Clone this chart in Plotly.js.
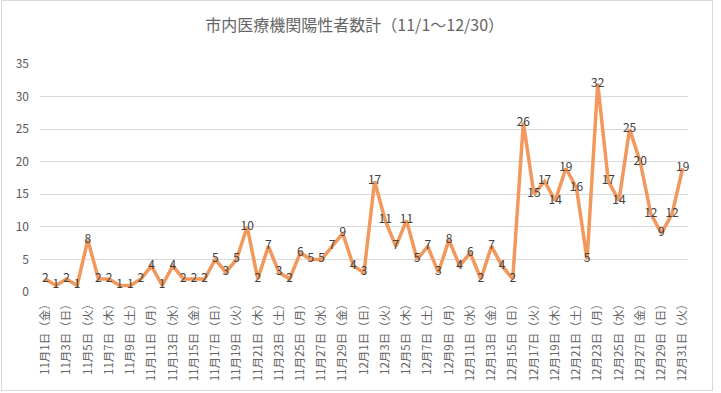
<!DOCTYPE html>
<html>
<head>
<meta charset="utf-8">
<script src="https://cdn.plot.ly/plotly-3.0.1.min.js"></script>
<style>
html,body{margin:0;padding:0;background:#fff;}
#wrap{position:relative;width:721px;height:393px;}
#chart{position:absolute;left:0;top:0;width:721px;height:393px;}
#frame{position:absolute;left:1px;top:0px;width:710px;height:389px;border:1px solid #d9d9d9;pointer-events:none;}
</style>
</head>
<body>
<div id="wrap"><div id="chart"></div><div id="frame"></div></div>
<script>
const titleText = "市内医療機関陽性者数計（11/1～12/30）";
const categories = [
"11月1日（金）","11月2日（土）","11月3日（日）","11月4日（月）","11月5日（火）","11月6日（水）","11月7日（木）",
"11月8日（金）","11月9日（土）","11月10日（日）","11月11日（月）","11月12日（火）","11月13日（水）","11月14日（木）",
"11月15日（金）","11月16日（土）","11月17日（日）","11月18日（月）","11月19日（火）","11月20日（水）","11月21日（木）",
"11月22日（金）","11月23日（土）","11月24日（日）","11月25日（月）","11月26日（火）","11月27日（水）","11月28日（木）",
"11月29日（金）","11月30日（土）",
"12月1日（日）","12月2日（月）","12月3日（火）","12月4日（水）","12月5日（木）","12月6日（金）","12月7日（土）",
"12月8日（日）","12月9日（月）","12月10日（火）","12月11日（水）","12月12日（木）","12月13日（金）","12月14日（土）",
"12月15日（日）","12月16日（月）","12月17日（火）","12月18日（水）","12月19日（木）","12月20日（金）","12月21日（土）",
"12月22日（日）","12月23日（月）","12月24日（火）","12月25日（水）","12月26日（木）","12月27日（金）","12月28日（土）",
"12月29日（日）","12月30日（月）","12月31日（火）"
];
const positives = [
2,1,2,1,8,2,2,1,1,2,4,1,4,2,2,2,5,3,5,10,2,7,3,2,6,5,5,7,9,4,
3,17,11,7,11,5,7,3,8,4,6,2,7,4,2,26,15,17,14,19,16,5,32,17,14,25,20,12,9,12,19
];
const yTicks = [0,5,10,15,20,25,30,35];

const tickCats = categories.filter((c,i)=>i%2===0);
const font = '"Noto Sans CJK JP", "Noto Sans", sans-serif';

const trace = {
  type:'scatter',
  mode:'lines+text',
  x: categories,
  y: positives,
  text: positives.map(String),
  textposition:'middle center',
  textfont:{family:font,size:12,color:'#404040'},
  line:{color:'#F2985C',width:3.5},
  hoverinfo:'x+y',
  cliponaxis:false
};

const layout = {
  width:721,height:393,
  margin:{l:40,r:33,t:64,b:101},
  paper_bgcolor:'#fff',plot_bgcolor:'#fff',
  showlegend:false,
  title:{text:titleText,x:0.492,xref:'container',xanchor:'center',y:0.935,yref:'container',yanchor:'middle',
         font:{family:font,size:16,color:'#666666'}},
  xaxis:{type:'category',range:[-0.5,categories.length-0.5],tickmode:'array',tickvals:tickCats,ticktext:tickCats,
         tickangle:-90,tickfont:{family:font,size:11.5,color:'#666666'},showgrid:false,zeroline:false,
         showline:false,ticks:'',ticklen:0,ticklabelstandoff:3},
  yaxis:{range:[0,35],tickvals:yTicks,tickfont:{family:font,size:12,color:'#595959'},gridcolor:'#d9d9d9',gridwidth:1,
         zeroline:false,showline:false,ticks:'',ticklabelstandoff:10}
};

Plotly.newPlot('chart',[trace],layout,{displayModeBar:false,staticPlot:true});
</script>
</body>
</html>
